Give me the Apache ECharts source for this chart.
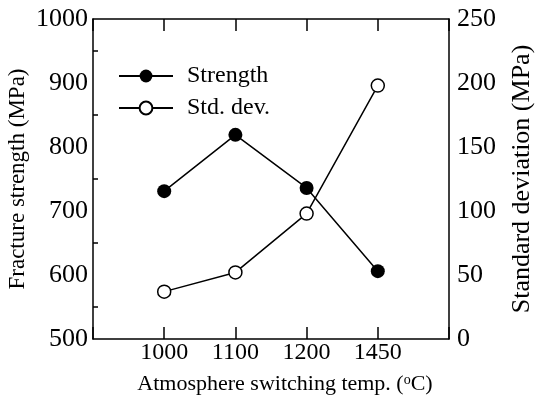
<!DOCTYPE html>
<html><head><meta charset="utf-8">
<script src="https://cdn.jsdelivr.net/npm/echarts@6/dist/echarts.min.js"></script>
<style>html,body{margin:0;padding:0;background:#fff}#c{width:535px;height:405px}</style>
</head><body><div id="c"></div>
<script>
const categories = ['1000', '1100', '1200', '1450'];
const strength = [731, 819, 736, 606];
const stdDev = [37, 52, 98, 198];
const leftTicks = [500, 1000, 100];
const rightTicks = [0, 250, 50];

const F = 'Liberation Serif';
const axisCats = [''].concat(categories, ['']);
const chart = echarts.init(document.getElementById('c'), null, {renderer: 'canvas'});
const lineStyle = {color: '#000', width: 1.5};
chart.setOption({
  animation: false,
  backgroundColor: '#fff',
  textStyle: {fontFamily: F, color: '#000'},
  grid: {left: 93, right: 86, top: 19, bottom: 66, containLabel: false, outerBoundsMode: 'none'},
  legend: {
    orient: 'vertical', left: 113, top: 59, itemWidth: 54, itemHeight: 16, itemGap: 8,
    textStyle: {fontFamily: F, fontSize: 24, color: '#000', padding: [0, 0, 0, 9]},
    data: ['Strength', 'Std. dev.']
  },
  xAxis: [{
    type: 'category', data: axisCats, boundaryGap: false, position: 'bottom',
    axisLine: {lineStyle: lineStyle},
    axisTick: {inside: true, length: 12, lineStyle: lineStyle},
    axisLabel: {fontFamily: F, fontSize: 24, color: '#000', margin: 2},
    splitLine: {show: false},
    name: 'Atmosphere switching temp. ({s|o}C)', nameLocation: 'middle', nameGap: 34,
    nameTextStyle: {fontFamily: F, fontSize: 22, color: '#000', padding: [0, 0, 0, 28],
      rich: {s: {fontFamily: F, fontSize: 14, color: '#000', verticalAlign: 'top', padding: [0, 0, 8, 0]}}}
  }, {
    type: 'category', data: axisCats, boundaryGap: false, position: 'top',
    axisLine: {lineStyle: lineStyle},
    axisTick: {inside: true, length: 12, lineStyle: lineStyle},
    axisLabel: {show: false}, splitLine: {show: false}
  }],
  yAxis: [{
    type: 'value', min: leftTicks[0], max: leftTicks[1], interval: leftTicks[2], position: 'left',
    axisLine: {show: true, lineStyle: lineStyle},
    axisTick: {inside: true, length: 11, lineStyle: lineStyle},
    minorTick: {show: true, splitNumber: 2, length: 5, lineStyle: {color: '#000', width: 1.5}},
    axisLabel: {fontFamily: F, fontSize: 26, color: '#000', margin: 5, formatter: v => String(v)},
    splitLine: {show: false},
    name: 'Fracture strength (MPa)', nameLocation: 'middle', nameGap: 64, nameMoveOverlap: false,
    nameTextStyle: {fontFamily: F, fontSize: 23, color: '#000'}
  }, {
    type: 'value', min: rightTicks[0], max: rightTicks[1], interval: rightTicks[2], position: 'right',
    axisLine: {show: true, lineStyle: lineStyle},
    axisTick: {inside: true, length: 12, lineStyle: lineStyle},
    axisLabel: {fontFamily: F, fontSize: 26, color: '#000', margin: 8, formatter: v => String(v)},
    splitLine: {show: false},
    name: 'Standard deviation (MPa)', nameLocation: 'middle', nameGap: 60,
    nameTextStyle: {fontFamily: F, fontSize: 26, color: '#000'}
  }],
  series: [{
    name: 'Strength', type: 'line', xAxisIndex: 0, yAxisIndex: 0,
    data: categories.map((c, i) => [c, strength[i]]),
    symbol: 'circle', symbolSize: 14,
    itemStyle: {color: '#000'}, lineStyle: lineStyle
  }, {
    name: 'Std. dev.', type: 'line', xAxisIndex: 0, yAxisIndex: 1,
    data: categories.map((c, i) => [c, stdDev[i]]),
    symbol: 'circle', symbolSize: 13,
    itemStyle: {color: '#fff', borderColor: '#000', borderWidth: 1.5}, lineStyle: lineStyle
  }]
});
</script></body></html>
